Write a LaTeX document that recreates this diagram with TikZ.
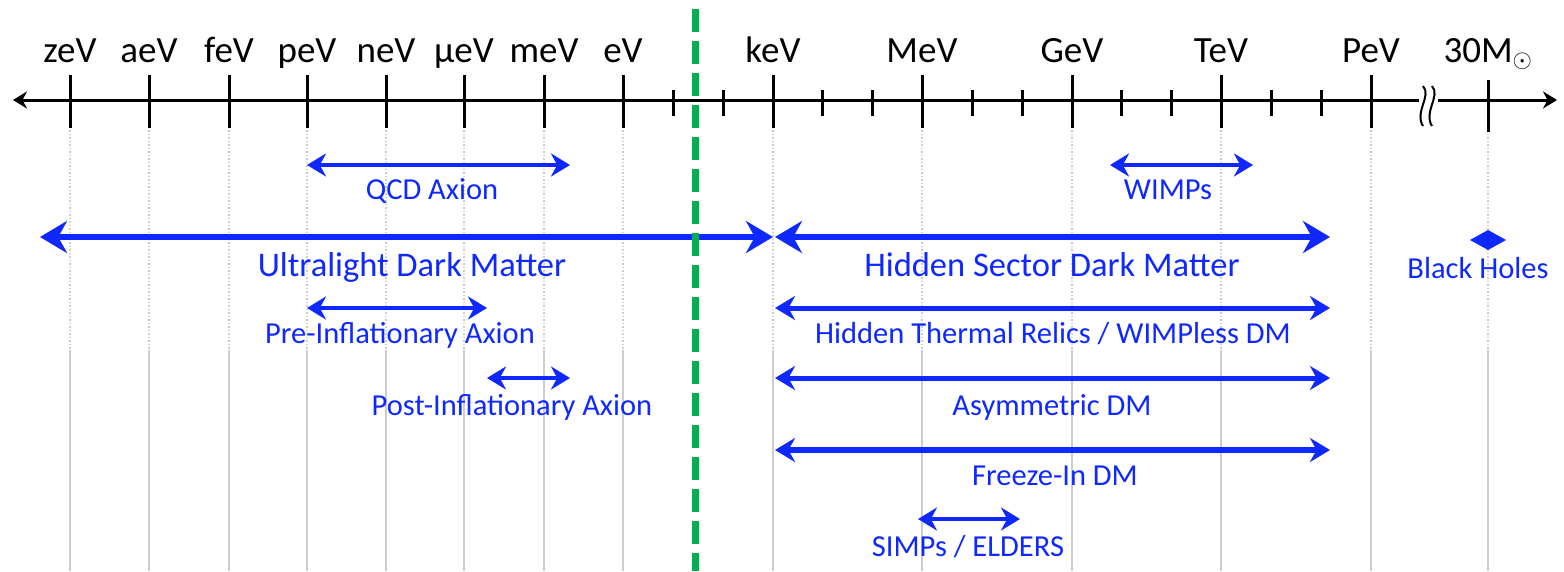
\documentclass[tikz,border=0pt]{standalone}
\usepackage{fontspec}
\setmainfont{Carlito}
\usetikzlibrary{arrows.meta}
\definecolor{dmblue}{RGB}{15,40,255}
\definecolor{cutgreen}{RGB}{0,176,80}
\definecolor{gridgray}{RGB}{205,205,205}
\tikzset{
  scalelbl/.style={anchor=base,inner sep=0pt,font=\fontsize{37}{40}\selectfont},
  majtick/.style={line width=3pt},
  mintick/.style={line width=3pt},
  gridline/.style={gridgray,line width=1.5pt},
  rangebig/.style={dmblue,line width=6.5pt,{Stealth[length=27pt,width=32pt]}-{Stealth[length=27pt,width=32pt]}},
  rangemid/.style={dmblue,line width=5pt,{Stealth[length=20pt,width=24pt]}-{Stealth[length=20pt,width=24pt]}},
  rangesmall/.style={dmblue,line width=4.5pt,{Stealth[length=19pt,width=23pt]}-{Stealth[length=19pt,width=23pt]}},
  biglbl/.style={dmblue,anchor=base,inner sep=0pt,font=\fontsize{34.5}{38}\selectfont},
  smalllbl/.style={dmblue,anchor=base,inner sep=0pt,font=\fontsize{30.5}{34}\selectfont}
}
\begin{document}
\begin{tikzpicture}[x=1pt,y=-1pt]
  \useasboundingbox (0,0) rectangle (1564,571);
  % grid lines below the major ticks
  \draw[gridline,dotted] (70,130) -- (70,350) (149,130) -- (149,350) (229,130) -- (229,350)
    (307,130) -- (307,350) (386,130) -- (386,350) (464,130) -- (464,350) (544,130) -- (544,350)
    (623,130) -- (623,350) (773,130) -- (773,350) (922,130) -- (922,350) (1072,130) -- (1072,350)
    (1221,130) -- (1221,350) (1371,130) -- (1371,350) (1488,130) -- (1488,350);
  \draw[gridline] (70,350) -- (70,571) (149,350) -- (149,571) (229,350) -- (229,571)
    (307,350) -- (307,571) (386,350) -- (386,571) (464,350) -- (464,571) (544,350) -- (544,571)
    (623,350) -- (623,571) (773,350) -- (773,571) (922,350) -- (922,571) (1072,350) -- (1072,571)
    (1221,350) -- (1221,571) (1371,350) -- (1371,571) (1488,350) -- (1488,571);

  % energy axis
  \coordinate (axL) at (13,100);
  \coordinate (axR) at (1557,100);
  \draw[line width=3pt,{Stealth[length=14pt,width=17pt]}-{Stealth[length=14pt,width=17pt]}] (axL) -- (axR);
  \draw[majtick] (70,75) -- (70,128) (149,75) -- (149,128) (229,75) -- (229,128) (307,75) -- (307,128)
    (386,75) -- (386,128) (464,75) -- (464,128) (544,75) -- (544,128) (623,75) -- (623,128)
    (773,75) -- (773,128) (922,75) -- (922,128) (1072,75) -- (1072,128) (1221,75) -- (1221,128)
    (1371,75) -- (1371,128) (1488,80) -- (1488,132);
  \draw[mintick] (673,90) -- (673,116) (723,90) -- (723,116) (822,90) -- (822,116) (872,90) -- (872,116)
    (972,90) -- (972,116) (1022,90) -- (1022,116) (1121,90) -- (1121,116) (1171,90) -- (1171,116)
    (1271,90) -- (1271,116) (1321,90) -- (1321,116);
  % axis break
  \fill[white] (1419,92) rectangle (1438,108);
  \draw[line width=2pt] (1423,86) .. controls (1432,96) and (1414,112) .. (1423,126);
  \draw[line width=2pt] (1432,86) .. controls (1441,96) and (1423,112) .. (1432,126);

  \node[scalelbl] (zev) at (70,62) {zeV};
  \node[scalelbl] (aev) at (149,62) {aeV};
  \node[scalelbl] (fev) at (229,62) {feV};
  \node[scalelbl] (pev) at (307,62) {peV};
  \node[scalelbl] (nev) at (386,62) {neV};
  \node[scalelbl] (uev) at (464,62) {μeV};
  \node[scalelbl] (mev) at (544,62) {meV};
  \node[scalelbl] (ev) at (623,62) {eV};
  \node[scalelbl] (kev) at (773,62) {keV};
  \node[scalelbl] (Mev) at (922,62) {MeV};
  \node[scalelbl] (Gev) at (1072,62) {GeV};
  \node[scalelbl] (Tev) at (1221,62) {TeV};
  \node[scalelbl] (Pev) at (1371,62) {PeV};
  \node[scalelbl] (msun) at (1488,62) {30M\textsubscript{$\odot$}};

  % dark matter candidates
  \coordinate (qcdL) at (307,165);  \coordinate (qcdR) at (570,165);
  \draw[rangesmall] (qcdL) -- (qcdR);
  \node[smalllbl] (qcd) at (432,199) {QCD Axion};
  \coordinate (wimpL) at (1110,165);  \coordinate (wimpR) at (1253,165);
  \draw[rangesmall] (wimpL) -- (wimpR);
  \node[smalllbl] (wimp) at (1168,199) {WIMPs};

  \coordinate (ulL) at (40,237);  \coordinate (ulR) at (773,237);
  \draw[rangebig] (ulL) -- (ulR);
  \node[biglbl] (ultra) at (412,276) {Ultralight Dark Matter};
  \coordinate (hsL) at (775,237);  \coordinate (hsR) at (1330,237);
  \draw[rangebig] (hsL) -- (hsR);
  \node[biglbl] (hidden) at (1052,276) {Hidden Sector Dark Matter};
  \coordinate (bh) at (1488,240);
  \fill[dmblue] (bh) +(-18,0) -- +(0,-10) -- +(18,0) -- +(0,10) -- cycle;
  \node[smalllbl] (holes) at (1478,278) {Black Holes};

  \coordinate (preL) at (307,308);  \coordinate (preR) at (487,308);
  \draw[rangesmall] (preL) -- (preR);
  \node[smalllbl] (pre) at (400,343) {Pre-Inflationary Axion};
  \coordinate (htL) at (775,308);  \coordinate (htR) at (1330,308);
  \draw[rangemid] (htL) -- (htR);
  \node[smalllbl] (thermal) at (1053,343) {Hidden Thermal Relics / WIMPless DM};

  \coordinate (postL) at (487,378);  \coordinate (postR) at (570,378);
  \draw[rangesmall] (postL) -- (postR);
  \node[smalllbl] (post) at (512,415) {Post-Inflationary Axion};
  \coordinate (asL) at (775,378);  \coordinate (asR) at (1330,378);
  \draw[rangemid] (asL) -- (asR);
  \node[smalllbl] (asym) at (1052,415) {Asymmetric DM};

  \coordinate (fiL) at (775,450);  \coordinate (fiR) at (1330,450);
  \draw[rangemid,line width=6pt] (fiL) -- (fiR);
  \node[smalllbl] (freeze) at (1055,485) {Freeze-In DM};
  \coordinate (simpL) at (918,519);  \coordinate (simpR) at (1020,519);
  \draw[rangesmall] (simpL) -- (simpR);
  \node[smalllbl] (simp) at (968,556) {SIMPs / ELDERS};

  % divide between wave-like and particle-like
  \coordinate (cutT) at (695,9);  \coordinate (cutB) at (695,571);
  \draw[cutgreen,line width=7pt,dash pattern=on 23pt off 9pt] (cutT) -- (cutB);
\end{tikzpicture}
\end{document}
